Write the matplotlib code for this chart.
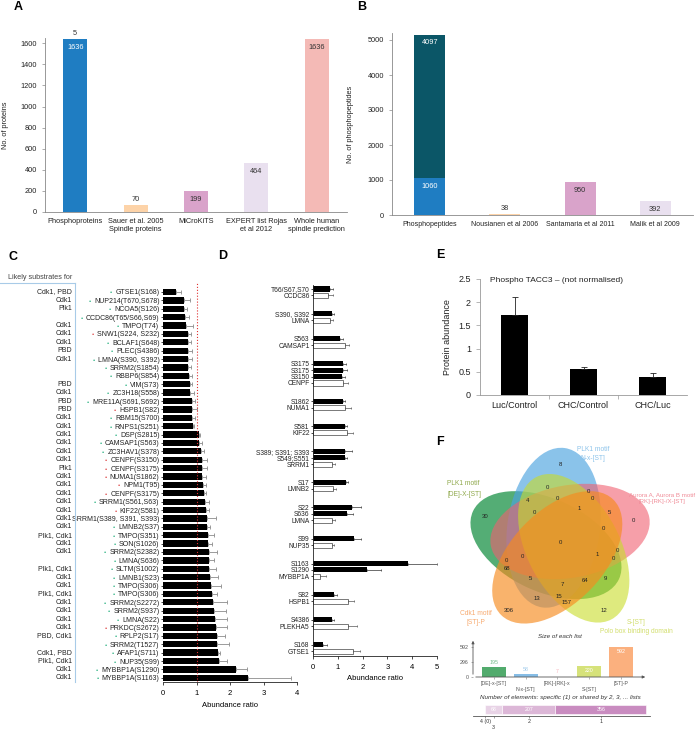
import numpy as np
import matplotlib
matplotlib.use('Agg')
import matplotlib.pyplot as plt
import matplotlib.transforms as mtrans
from matplotlib.patches import Ellipse

plt.rcParams['font.family'] = ['Liberation Sans', 'DejaVu Sans']

# ---------------- data ----------------
# A: number of proteins
a_cats = ['Phosphoproteins', 'Sauer et al. 2005\nSpindle proteins', 'MiCroKiTS',
          'EXPERT list Rojas\net al 2012', 'Whole human\nspindle prediction']
a_vals = [1636, 70, 199, 464, 1636]
a_extra = [5, 0, 0, 0, 0]

# B: number of phosphopeptides
b_cats = ['Phosphopeptides', 'Nousianen et al 2006', 'Santamaria et al 2011', 'Malik et al 2009']
b_vals = [1060, 38, 950, 392]
b_top = [4097, 0, 0, 0]

# C: abundance ratios of phosphosites
c_kinase = ['Cdk1, PBD', 'Cdk1', 'Plk1', '', 'Cdk1', 'Cdk1', 'Cdk1', 'PBD', 'Cdk1', '', '',
            'PBD', 'Cdk1', 'PBD', 'PBD', 'Cdk1', 'Cdk1', 'Cdk1', 'Cdk1', 'Cdk1', 'Cdk1', 'Plk1',
            'Cdk1', 'Cdk1', 'Cdk1', 'Cdk1', 'Cdk1', 'Cdk1', 'Cdk1', 'Plk1, Cdk1', 'Cdk1', 'Cdk1',
            '', 'Plk1, Cdk1', 'Cdk1', 'Cdk1', 'Plk1, Cdk1', 'Cdk1', 'Cdk1', 'Cdk1', 'Cdk1',
            'PBD, Cdk1', '', 'Cdk1, PBD', 'Plk1, Cdk1', 'Cdk1', 'Cdk1']
c_labels = ['GTSE1(S168)', 'NUP214(T670,S678)', 'NCOA5(S126)', 'CCDC86(T65/S66,S69)', 'TMPO(T74)',
            'SNW1(S224, S232)', 'BCLAF1(S648)', 'PLEC(S4386)', 'LMNA(S390, S392)', 'SRRM2(S1854)',
            'RBBP6(S854)', 'VIM(S73)', 'ZC3H18(S558)', 'MRE11A(S691,S692)', 'HSPB1(S82)',
            'RBM15(S700)', 'RNPS1(S251)', 'DSP(S2815)', 'CAMSAP1(S563)', 'ZC3HAV1(S378)',
            'CENPF(S3150)', 'CENPF(S3175)', 'NUMA1(S1862)', 'NPM1(T95)', 'CENPF(S3175)',
            'SRRM1(S561,S63)', 'KIF22(S581)', 'SRRM1(S389, S391, S393)', 'LMNB2(S37)', 'TMPO(S351)',
            'SON(S1026)', 'SRRM2(S2382)', 'LMNA(S636)', 'SLTM(S1002)', 'LMNB1(S23)', 'TMPO(S306)',
            'TMPO(S306)', 'SRRM2(S2272)', 'SRRM2(S937)', 'LMNA(S22)', 'PRKDC(S2672)', 'RPLP2(S17)',
            'SRRM2(T1527)', 'AFAP1(S711)', 'NUP35(S99)', 'MYBBP1A(S1290)', 'MYBBP1A(S1163)']
c_dots = ['g', 'g', 'g', 'g', 'g', 'r', 'g', 'g', 'g', 'g', 'g', 'g', 'g', 'g', 'r', 'g', 'g', 'g',
          'g', 'g', 'r', 'r', 'r', 'r', 'r', 'g', 'r', '', 'g', 'g', 'g', 'g', 'g', 'g', 'g', 'g',
          'g', 'g', 'g', 'g', 'r', 'g', 'g', 'g', 'g', 'g', 'g']
c_vals = [0.40, 0.62, 0.62, 0.67, 0.69, 0.74, 0.75, 0.75, 0.76, 0.76, 0.78, 0.81, 0.81, 0.86,
          0.86, 0.87, 0.89, 1.06, 1.08, 1.14, 1.16, 1.16, 1.17, 1.19, 1.22, 1.26, 1.28, 1.30,
          1.31, 1.33, 1.35, 1.36, 1.37, 1.38, 1.40, 1.42, 1.45, 1.50, 1.53, 1.55, 1.58, 1.60,
          1.62, 1.65, 1.67, 2.18, 2.55]
c_errs = [0.13, 0.19, 0.11, 0.11, 0.21, 0.11, 0.09, 0.13, 0.10, 0.09, 0.08, 0.07, 0.11, 0.09,
          0.14, 0.08, 0.04, 0.04, 0.08, 0.08, 0.16, 0.16, 0.11, 0.09, 0.06, 0.12, 0.10, 0.27,
          0.09, 0.19, 0.11, 0.24, 0.16, 0.21, 0.25, 0.30, 0.15, 0.42, 0.35, 0.37, 0.32, 0.26,
          0.36, 0.05, 0.23, 0.34, 1.27]

# D: phosphosites (black) vs. protein (white)
d_proteins = ['CCDC86', 'LMNA', 'CAMSAP1', 'CENPF', 'NUMA1', 'KIF22', 'SRRM1', 'LMNB2', 'LMNA',
              'NUP35', 'MYBBP1A', 'HSPB1', 'PLEKHA5', 'GTSE1']
d_sites = [['T66/S67,S70'], ['S390, S392'], ['S563'], ['S3175', 'S3175', 'S3150'], ['S1862'],
           ['S581'], ['S389; S391; S393', 'S549;S551'], ['S17'], ['S22', 'S636'], ['S99'],
           ['S1163', 'S1290'], ['S82'], ['S4386'], ['S168']]
d_site_vals = [[0.69], [0.75], [1.09], [1.22, 1.20, 1.16], [1.20], [1.29], [1.29, 1.29], [1.33],
               [1.56, 1.38], [1.65], [3.84, 2.17], [0.85], [0.75], [0.42]]
d_site_errs = [[0.12], [0.10], [0.11], [0.11, 0.16, 0.13], [0.09], [0.09], [0.27, 0.09], [0.09],
               [0.36, 0.24], [0.27], [1.17, 0.56], [0.13], [0.09], [0.13]]
d_prot_vals = [0.60, 0.70, 1.29, 1.22, 1.29, 1.36, 0.75, 0.79, 0.75, 0.75, 0.28, 1.42, 1.42, 1.60]
d_prot_errs = [0.20, 0.10, 0.17, 0.20, 0.23, 0.27, 0.13, 0.13, 0.13, 0.09, 0.24, 0.23, 0.34, 0.30]

# E: phospho TACC3
e_cats = ['Luc/Control', 'CHC/Control', 'CHC/Luc']
e_vals = [1.72, 0.55, 0.38]
e_errs = [0.39, 0.05, 0.10]

# F: motif lists
f_names = ['[DE]-x-[ST]', 'N-x-[ST]', '[RK]-[RK]-x', 'S-[ST]', '[ST]-P']
f_sizes = [195, 58, 7, 220, 592]
f_shared_lab = ['4 (0)', '3', '2', '1']
f_shared_vals = [0, 68, 207, 356]
venn_counts = ['30', '8', '0', '12', '306', '0', '0', '0', '4', '0', '0', '1', '5', '0', '0',
               '1', '0', '0', '0', '0', '68', '5', '7', '64', '9', '13', '15', '157']
venn_xy = [(485, 516), (560, 464), (633, 521), (604, 611), (509, 611), (547, 487), (588, 491),
           (592, 498), (527, 500), (557, 498), (534, 512), (579, 508), (609, 512), (603, 529),
           (560, 542), (597, 554), (617, 551), (613, 559), (522, 557), (506, 561), (507, 569),
           (530, 578), (562, 585), (585, 581), (605, 578), (537, 598), (559, 596), (567, 602)]

# ---------------- figure ----------------
W, H = 696, 729
fig = plt.figure(figsize=(W / 100, H / 100), dpi=100)


def px_axes(l, t, r, b):
    # axes placed by pixel box (left, top, right, bottom)
    return fig.add_axes([l / W, 1 - b / H, (r - l) / W, (b - t) / H])


def clean(ax, color='#888888', keep=('left', 'bottom')):
    for k, s in ax.spines.items():
        if k in keep:
            s.set_color(color)
            s.set_linewidth(0.6)
        else:
            s.set_visible(False)


# ---- A ----
a_colors = ['#1f7dc2', '#fdd3a8', '#d9a3ca', '#e9e0ef', '#f4bab6']
a_txt = ['white', '#333333', '#333333', '#333333', '#333333']
axA = px_axes(45, 38, 347, 212)
xa = np.arange(len(a_cats))
axA.bar(xa, a_vals, width=0.4, color=a_colors)
axA.bar(xa, a_extra, bottom=a_vals, width=0.4, color='#cfe3f3')
axA.set_xlim(-0.5, len(a_cats) - 0.5)
axA.set_ylim(0, 1650)
axA.set_yticks(np.arange(0, 1601, 200))
axA.set_xticks(xa)
axA.set_xticklabels(a_cats, fontsize=5.3, color='#222222')
axA.tick_params(axis='x', length=0, pad=4)
axA.tick_params(axis='y', labelsize=5.3, length=2, width=0.5, color='#888888', labelcolor='#222222')
clean(axA)
axA.set_ylabel('No. of proteins', fontsize=5.3, color='#222222')
axA.yaxis.set_label_coords(-0.118, 0.5)
for i, v in enumerate(a_vals):
    if v > 150:
        axA.annotate(str(v), (i, v + a_extra[i]), xytext=(0, -6), textcoords='offset points',
                     ha='center', va='center', fontsize=5.3, color=a_txt[i])
    else:
        axA.annotate(str(v), (i, v), xytext=(0, 4), textcoords='offset points',
                     ha='center', va='center', fontsize=5.3, color='#333333')
    if a_extra[i]:
        axA.annotate(str(a_extra[i]), (i, v + a_extra[i]), xytext=(0, 4), textcoords='offset points',
                     ha='center', va='center', fontsize=5.3, color='#333333')

# ---- B ----
b_colors = ['#1f7dc2', '#fdd3a8', '#d9a3ca', '#e9e0ef']
axB = px_axes(392, 33, 693, 215)
xb = np.arange(len(b_cats))
axB.bar(xb, b_vals, width=0.41, color=b_colors)
axB.bar(xb, b_top, bottom=b_vals, width=0.41, color='#0b5667')
axB.set_xlim(-0.5, len(b_cats) - 0.5)
axB.set_ylim(0, 5200)
axB.set_yticks(np.arange(0, 5001, 1000))
axB.set_xticks(xb)
axB.set_xticklabels(b_cats, fontsize=5.0, color='#222222')
axB.tick_params(axis='x', length=0, pad=4)
axB.tick_params(axis='y', labelsize=5.3, length=2, width=0.5, color='#888888', labelcolor='#222222')
clean(axB)
axB.set_ylabel('No. of phosphopeptides', fontsize=5.3, color='#222222')
axB.yaxis.set_label_coords(-0.126, 0.5)
for i, v in enumerate(b_vals):
    if v > 150:
        axB.annotate(str(v), (i, v), xytext=(0, -6), textcoords='offset points', ha='center',
                     va='center', fontsize=5.3, color='white' if i == 0 else '#333333')
    else:
        axB.annotate(str(v), (i, v), xytext=(0, 4), textcoords='offset points', ha='center',
                     va='center', fontsize=5.3, color='#333333')
    if b_top[i]:
        axB.annotate(str(b_top[i]), (i, v + b_top[i]), xytext=(0, -6), textcoords='offset points',
                     ha='center', va='center', fontsize=5.3, color='white')

# ---- C ----
axC = px_axes(163, 283, 297, 682)
yc = np.arange(len(c_labels))
axC.barh(yc, c_vals, height=0.75, color='black',
         xerr=[np.zeros(len(c_vals)), c_errs],
         error_kw=dict(ecolor='#8c8c8c', elinewidth=0.6, capsize=1.2, capthick=0.6))
axC.axvline(1, color='#e03030', ls=':', lw=0.8)
axC.set_xlim(0, 4)
axC.set_ylim(46.5, -1.07)
axC.set_yticks(yc)
axC.set_yticklabels(c_labels, fontsize=5.0, color='#222222')
axC.tick_params(axis='y', length=1.5, width=0.5, pad=1)
axC.set_xticks(range(5))
axC.tick_params(axis='x', labelsize=5.5, length=2, width=0.5)
clean(axC, color='#222222', keep=('bottom',))
axC.set_xlabel('Abundance ratio', fontsize=5.5, labelpad=4)
trC = mtrans.blended_transform_factory(fig.transFigure, axC.transData)
for i, k in enumerate(c_kinase):
    if k:
        axC.text(72 / W, i, k, transform=trC, ha='right', va='center', fontsize=5.0,
                 color='#222222', clip_on=False)

# ---- D ----
axD = px_axes(313, 285, 437, 656)
pos = 0.0
d_ticks, d_ticklab = [], []
for g in range(len(d_proteins)):
    for s, v, e in zip(d_sites[g], d_site_vals[g], d_site_errs[g]):
        axD.barh(pos, v, height=0.78, color='black', xerr=[[0], [e]],
                 error_kw=dict(ecolor='#333333', elinewidth=0.5, capsize=1.0, capthick=0.5))
        d_ticks.append(pos)
        d_ticklab.append(s)
        pos += 1
    axD.barh(pos, d_prot_vals[g], height=0.78, color='white', edgecolor='#444444', linewidth=0.5,
             xerr=[[0], [d_prot_errs[g]]],
             error_kw=dict(ecolor='#555555', elinewidth=0.5, capsize=1.0, capthick=0.5))
    d_ticks.append(pos)
    d_ticklab.append(d_proteins[g])
    last = pos
    pos += 2.85
axD.set_xlim(0, 5)
axD.set_ylim(last + 0.77, -0.62)
axD.set_yticks(d_ticks)
axD.set_yticklabels(d_ticklab, fontsize=4.8, color='#222222')
axD.tick_params(axis='y', length=1.5, width=0.5, pad=1)
axD.set_xticks(range(6))
axD.tick_params(axis='x', labelsize=5.5, length=2, width=0.5)
clean(axD, color='#222222')
axD.set_xlabel('Abundance ratio', fontsize=5.5, labelpad=3)

# ---- E ----
axE = px_axes(480, 279, 687, 395)
xe = np.arange(len(e_cats))
axE.bar(xe, e_vals, width=0.4, color='black', yerr=[np.zeros(len(e_vals)), e_errs],
        error_kw=dict(ecolor='#222222', elinewidth=0.6, capsize=2, capthick=0.6))
axE.set_xlim(-0.5, len(e_cats) - 0.5)
axE.set_ylim(0, 2.5)
axE.set_yticks([0, 0.5, 1, 1.5, 2, 2.5])
axE.set_yticklabels(['0', '0.5', '1', '1.5', '2', '2.5'])
axE.set_xticks(xe)
axE.set_xticklabels(e_cats)
axE.set_xticks([0.5, 1.5], minor=True)
axE.tick_params(axis='x', which='major', length=0, labelsize=6.5, pad=4, labelcolor='#222222')
axE.tick_params(axis='x', which='minor', length=3, width=0.5, color='#999999')
axE.tick_params(axis='y', labelsize=6.5, length=3, width=0.5, color='#999999', labelcolor='#222222')
clean(axE, color='#999999')
axE.set_ylabel('Protein abundance', fontsize=6.5, color='#222222')
axE.yaxis.set_label_coords(-0.135, 0.5)
axE.text(0.048, 0.985, 'Phospho TACC3 \u2013 (not normalised)', transform=axE.transAxes,
         ha='left', va='center', fontsize=6, color='#222222')

# ---- F: list sizes ----
f_colors = ['#52ab6d', '#86bde6', '#f2a0aa', '#d6e27a', '#fbb07e']
axF = px_axes(473, 638, 648, 677)
xf = np.arange(len(f_names))
axF.bar(xf, f_sizes, width=0.75, color=f_colors)
axF.set_xlim(-0.66, 4.86)
axF.set_ylim(0, 770)
axF.set_yticks([0, 296, 592])
axF.set_xticks(xf)
axF.set_xticklabels([n if i % 2 == 0 else '\n' + n for i, n in enumerate(f_names)])
axF.tick_params(axis='both', labelsize=3.8, length=1.5, width=0.4, color='#777777',
                labelcolor='#555555', pad=1.5)
for s in axF.spines.values():
    s.set_visible(False)
axF.annotate('', xy=(1.0, 0), xytext=(0, 0), xycoords='axes fraction',
             arrowprops=dict(arrowstyle='-|>', color='#555555', lw=0.6, mutation_scale=4))
axF.annotate('', xy=(0, 1.0), xytext=(0, 0), xycoords='axes fraction',
             arrowprops=dict(arrowstyle='-|>', color='#555555', lw=0.6, mutation_scale=4))
for i, v in enumerate(f_sizes):
    if v >= 200:
        axF.annotate(str(v), (i, v), xytext=(0, -3.5), textcoords='offset points', ha='center',
                     va='center', fontsize=3.8, color='white')
    else:
        axF.annotate(str(v), (i, v), xytext=(0, 3.5), textcoords='offset points', ha='center',
                     va='center', fontsize=3.8, color=f_colors[i], alpha=0.8)

# ---- F: shared elements ----
s_colors = ['#e8d3e6', '#e8d3e6', '#dcb7d7', '#c98cc0']
axS = px_axes(473, 703, 650, 716)
left = 0
s_centers = []
for v, c in zip(f_shared_vals, s_colors):
    axS.barh(0.5, v, left=left, height=0.69, color=c, edgecolor='white', linewidth=0.4)
    if v:
        axS.text(left + v / 2, 0.5, str(v), ha='center', va='center', fontsize=3.8, color='white')
    s_centers.append(left + v / 2)
    left += v
axS.set_xlim(-47, 645)
axS.set_ylim(0, 1)
axS.set_yticks([])
axS.set_xticks(s_centers)
axS.set_xticklabels([l if i != 1 else '\n' + l for i, l in enumerate(f_shared_lab)])
axS.tick_params(axis='x', labelsize=3.8, length=1.5, width=0.4, color='#555555',
                labelcolor='#333333', pad=1)
clean(axS, color='#555555', keep=('bottom',))

# ---------------- overlay (letters, bracket, venn) ----------------
ov = fig.add_axes([0, 0, 1, 1])
ov.set_xlim(0, W)
ov.set_ylim(H, 0)
ov.axis('off')
ov.patch.set_alpha(0)

for letter, (lx, ly) in zip('ABCDEF', [(18, 7), (362, 7), (13, 257), (223, 256), (440, 255), (440, 442)]):
    ov.text(lx, ly, letter, fontsize=9, fontweight='bold', ha='center', va='center')

ov.text(8, 277, 'Likely substrates for', fontsize=5.2, color='#444444', ha='left', va='center')
ov.plot([0, 75], [283, 283], color='#a8cbe8', lw=0.8)
ov.plot([75, 75], [283, 682], color='#a8cbe8', lw=0.8)

# five-set venn (ellipses in unit square, mapped onto pixels)
venn_colors = ['#0b8a3a', '#4ca3e0', '#f06070', '#c8dc28', '#f78a1e']
venn_alpha = [0.7, 0.65, 0.6, 0.6, 0.65]
ell = [(0.428, 0.449, 155.0), (0.469, 0.543, 82.0), (0.558, 0.523, 10.0),
       (0.578, 0.432, 118.0), (0.489, 0.383, 46.0)]
sc, x0, y0 = 185.0, 466.8, 628.2
for (cx, cy, ang), col, al in zip(ell, venn_colors, venn_alpha):
    ov.add_patch(Ellipse((x0 + cx * sc, y0 - cy * sc), 0.87 * sc, 0.5 * sc, angle=-ang,
                         facecolor=col, alpha=al, edgecolor='none'))
for t, (vx, vy) in zip(venn_counts, venn_xy):
    ov.text(vx, vy, t, fontsize=4.3, ha='center', va='center', color='#222222')

ov.text(447, 489, 'PLK1 motif\n[DE]-X-[ST]', fontsize=4.8, color='#8ea84a', ha='left', va='center',
        linespacing=1.7)
ov.text(593, 454, 'PLK1 motif\nN-x-[ST]', fontsize=4.8, color='#8cc3ea', ha='center', va='center',
        linespacing=1.4)
ov.text(662, 498, 'Aurora A, Aurora B motif\n[RK]-[RK]-/X-[ST]', fontsize=4.4, color='#f08c98',
        ha='center', va='center', linespacing=1.5)
ov.text(476, 618, 'Cdk1 motif\n[ST]-P', fontsize=4.8, color='#f7aa70', ha='center', va='center',
        linespacing=1.5)
ov.text(636, 627, 'S-[ST]\nPolo box binding domain', fontsize=4.8, color='#d2de6c', ha='center',
        va='center', linespacing=1.4)
ov.text(560, 636, 'Size of each list', fontsize=4.5, style='italic', color='#333333',
        ha='center', va='center')
ov.text(560, 697, 'Number of elements: specific (1) or shared by 2, 3, ... lists', fontsize=4.5,
        style='italic', color='#333333', ha='center', va='center')

# coloured dots in front of the C labels
fig.canvas.draw()
dot_col = {'g': '#3cb88c', 'r': '#e05555'}
for lab, d in zip(axC.get_yticklabels(), c_dots):
    if not d:
        continue
    bb = lab.get_window_extent()
    fig.text(bb.x0 - 3, (bb.y0 + bb.y1) / 2, '\u2022', transform=mtrans.IdentityTransform(),
             ha='right', va='center', fontsize=4.5, color=dot_col[d])

fig.savefig('out.png', dpi=100)
